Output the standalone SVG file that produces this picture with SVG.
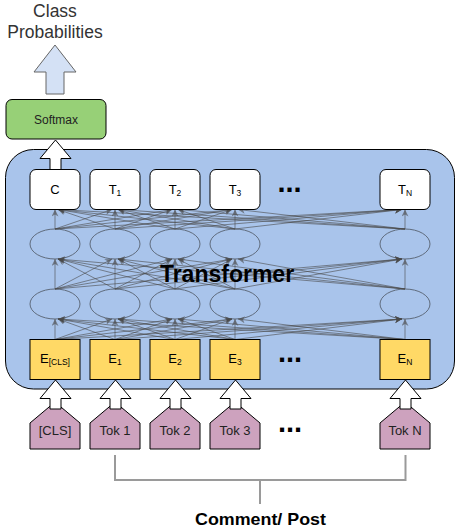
<svg xmlns="http://www.w3.org/2000/svg" width="456" height="530" viewBox="0 0 456 530">
<style>
text{font-family:"Liberation Sans",Arial,Helvetica,sans-serif;}
.lbl{font-size:13px;fill:#000;text-anchor:middle;}
.sub{font-size:8.5px;}
.dots{font-size:29px;font-weight:bold;fill:#000;text-anchor:middle;}
.tbox{fill:#fff;stroke:#000;stroke-width:1;}
.ebox{fill:#FFD966;stroke:#000;stroke-width:1;}
.tok{fill:#CDA2BE;stroke:#000;stroke-width:1;}
.ell{fill:none;stroke:#5f6b7c;stroke-width:1;}
.blk{fill:#fff;stroke:#000;stroke-width:1;}
.c{stroke:#4a4a4a;stroke-opacity:0.6;stroke-width:1;fill:none;marker-end:url(#ah);}
.br{stroke:#9a9a9a;stroke-width:2;fill:none;}
</style>
<defs>
<marker id="ah" markerUnits="userSpaceOnUse" markerWidth="8" markerHeight="8" refX="7" refY="3.5" orient="auto">
<path d="M0,0 L7,3.5 L0,7 L2,3.5 z" fill="#4a4a4a" fill-opacity="0.6"/>
</marker>
</defs>

<g id="title">
<text x="55" y="17" style="font-size:17.5px;fill:#333;text-anchor:middle">Class</text>
<text x="55" y="38" style="font-size:17.5px;fill:#333;text-anchor:middle">Probabilities</text>
</g>
<g id="out-arrow">
<polygon points="55,45 76,72 64,72 64,94 46,94 46,72 34,72" fill="#D4E1F5" stroke="#666" stroke-width="1"/>
</g>
<g id="softmax">
<rect x="6" y="99.5" width="100" height="39.5" rx="6" fill="#97D077" stroke="#000"/>
<text x="56" y="123.5" style="font-size:12px;fill:#222;text-anchor:middle">Softmax</text>
</g>

<g id="transformer">
<rect x="5.5" y="149.5" width="449" height="239.5" rx="28" fill="#A9C4EB" stroke="#000" stroke-width="1"/>
</g>

<g id="c-arrow">
<polygon class="blk" points="55.5,140 71,158.5 61,158.5 61,169.5 50,169.5 50,158.5 40,158.5"/>
</g>

<g id="hidden-layers">
<ellipse class="ell" cx="55" cy="244" rx="25" ry="15"/>
<ellipse class="ell" cx="115" cy="244" rx="25" ry="15"/>
<ellipse class="ell" cx="175" cy="244" rx="25" ry="15"/>
<ellipse class="ell" cx="235" cy="244" rx="25" ry="15"/>
<ellipse class="ell" cx="405" cy="244" rx="25" ry="15"/>
<ellipse class="ell" cx="55" cy="304" rx="25" ry="15"/>
<ellipse class="ell" cx="115" cy="304" rx="25" ry="15"/>
<ellipse class="ell" cx="175" cy="304" rx="25" ry="15"/>
<ellipse class="ell" cx="235" cy="304" rx="25" ry="15"/>
<ellipse class="ell" cx="405" cy="304" rx="25" ry="15"/>
</g>

<g id="connectors">
<!-- layer 1: E -> lower ellipses -->
<line class="c" x1="55" y1="339.5" x2="55" y2="319"/>
<line class="c" x1="55" y1="339.5" x2="112" y2="319"/>
<line class="c" x1="55" y1="339.5" x2="172" y2="319"/>
<line class="c" x1="55" y1="339.5" x2="232" y2="319"/>
<line class="c" x1="55" y1="339.5" x2="402" y2="319"/>
<line class="c" x1="115" y1="339.5" x2="58" y2="319"/>
<line class="c" x1="115" y1="339.5" x2="115" y2="319"/>
<line class="c" x1="115" y1="339.5" x2="172" y2="319"/>
<line class="c" x1="115" y1="339.5" x2="232" y2="319"/>
<line class="c" x1="115" y1="339.5" x2="402" y2="319"/>
<line class="c" x1="175" y1="339.5" x2="58" y2="319"/>
<line class="c" x1="175" y1="339.5" x2="118" y2="319"/>
<line class="c" x1="175" y1="339.5" x2="175" y2="319"/>
<line class="c" x1="175" y1="339.5" x2="232" y2="319"/>
<line class="c" x1="175" y1="339.5" x2="402" y2="319"/>
<line class="c" x1="235" y1="339.5" x2="58" y2="319"/>
<line class="c" x1="235" y1="339.5" x2="118" y2="319"/>
<line class="c" x1="235" y1="339.5" x2="178" y2="319"/>
<line class="c" x1="235" y1="339.5" x2="235" y2="319"/>
<line class="c" x1="235" y1="339.5" x2="402" y2="319"/>
<line class="c" x1="405" y1="339.5" x2="58" y2="319"/>
<line class="c" x1="405" y1="339.5" x2="118" y2="319"/>
<line class="c" x1="405" y1="339.5" x2="178" y2="319"/>
<line class="c" x1="405" y1="339.5" x2="238" y2="319"/>
<line class="c" x1="405" y1="339.5" x2="405" y2="319"/>
<!-- layer 2: lower ellipses -> upper ellipses -->
<line class="c" x1="55" y1="289" x2="55" y2="259"/>
<line class="c" x1="55" y1="289" x2="112" y2="259"/>
<line class="c" x1="55" y1="289" x2="172" y2="259"/>
<line class="c" x1="55" y1="289" x2="232" y2="259"/>
<line class="c" x1="55" y1="289" x2="402" y2="259"/>
<line class="c" x1="115" y1="289" x2="58" y2="259"/>
<line class="c" x1="115" y1="289" x2="115" y2="259"/>
<line class="c" x1="115" y1="289" x2="172" y2="259"/>
<line class="c" x1="115" y1="289" x2="232" y2="259"/>
<line class="c" x1="115" y1="289" x2="402" y2="259"/>
<line class="c" x1="175" y1="289" x2="58" y2="259"/>
<line class="c" x1="175" y1="289" x2="118" y2="259"/>
<line class="c" x1="175" y1="289" x2="175" y2="259"/>
<line class="c" x1="175" y1="289" x2="232" y2="259"/>
<line class="c" x1="175" y1="289" x2="402" y2="259"/>
<line class="c" x1="235" y1="289" x2="58" y2="259"/>
<line class="c" x1="235" y1="289" x2="118" y2="259"/>
<line class="c" x1="235" y1="289" x2="178" y2="259"/>
<line class="c" x1="235" y1="289" x2="235" y2="259"/>
<line class="c" x1="235" y1="289" x2="402" y2="259"/>
<line class="c" x1="405" y1="289" x2="58" y2="259"/>
<line class="c" x1="405" y1="289" x2="118" y2="259"/>
<line class="c" x1="405" y1="289" x2="178" y2="259"/>
<line class="c" x1="405" y1="289" x2="238" y2="259"/>
<line class="c" x1="405" y1="289" x2="405" y2="259"/>
<!-- layer 3: upper ellipses -> T -->
<line class="c" x1="55" y1="229" x2="55" y2="209.5"/>
<line class="c" x1="55" y1="229" x2="112" y2="209.5"/>
<line class="c" x1="55" y1="229" x2="172" y2="209.5"/>
<line class="c" x1="55" y1="229" x2="232" y2="209.5"/>
<line class="c" x1="55" y1="229" x2="402" y2="209.5"/>
<line class="c" x1="115" y1="229" x2="58" y2="209.5"/>
<line class="c" x1="115" y1="229" x2="115" y2="209.5"/>
<line class="c" x1="115" y1="229" x2="172" y2="209.5"/>
<line class="c" x1="115" y1="229" x2="232" y2="209.5"/>
<line class="c" x1="115" y1="229" x2="402" y2="209.5"/>
<line class="c" x1="175" y1="229" x2="58" y2="209.5"/>
<line class="c" x1="175" y1="229" x2="118" y2="209.5"/>
<line class="c" x1="175" y1="229" x2="175" y2="209.5"/>
<line class="c" x1="175" y1="229" x2="232" y2="209.5"/>
<line class="c" x1="175" y1="229" x2="402" y2="209.5"/>
<line class="c" x1="235" y1="229" x2="58" y2="209.5"/>
<line class="c" x1="235" y1="229" x2="118" y2="209.5"/>
<line class="c" x1="235" y1="229" x2="178" y2="209.5"/>
<line class="c" x1="235" y1="229" x2="235" y2="209.5"/>
<line class="c" x1="235" y1="229" x2="402" y2="209.5"/>
<line class="c" x1="405" y1="229" x2="58" y2="209.5"/>
<line class="c" x1="405" y1="229" x2="118" y2="209.5"/>
<line class="c" x1="405" y1="229" x2="178" y2="209.5"/>
<line class="c" x1="405" y1="229" x2="238" y2="209.5"/>
<line class="c" x1="405" y1="229" x2="405" y2="209.5"/>
</g>

<g id="transformer-label">
<text x="227" y="282" style="font-size:23px;font-weight:bold;fill:#000;text-anchor:middle">Transformer</text>
</g>

<g id="outputs">
<rect class="tbox" x="30" y="169.5" width="50" height="40" rx="6"/>
<text class="lbl" x="55" y="194">C</text>
<rect class="tbox" x="90" y="169.5" width="50" height="40" rx="6"/>
<text class="lbl" x="115" y="193.5">T<tspan class="sub" dy="2">1</tspan></text>
<rect class="tbox" x="150" y="169.5" width="50" height="40" rx="6"/>
<text class="lbl" x="175" y="193.5">T<tspan class="sub" dy="2">2</tspan></text>
<rect class="tbox" x="210" y="169.5" width="50" height="40" rx="6"/>
<text class="lbl" x="235" y="193.5">T<tspan class="sub" dy="2">3</tspan></text>
<text class="dots" x="289.5" y="192">...</text>
<rect class="tbox" x="380" y="169.5" width="50" height="40" rx="6"/>
<text class="lbl" x="405" y="193.5">T<tspan class="sub" dy="2">N</tspan></text>
</g>

<g id="embeddings">
<rect class="ebox" x="30" y="339.5" width="50" height="40"/>
<text class="lbl" x="55" y="362.5">E<tspan class="sub" dy="2">[CLS]</tspan></text>
<rect class="ebox" x="90" y="339.5" width="50" height="40"/>
<text class="lbl" x="115" y="362.5">E<tspan class="sub" dy="2">1</tspan></text>
<rect class="ebox" x="150" y="339.5" width="50" height="40"/>
<text class="lbl" x="175" y="362.5">E<tspan class="sub" dy="2">2</tspan></text>
<rect class="ebox" x="210" y="339.5" width="50" height="40"/>
<text class="lbl" x="235" y="362.5">E<tspan class="sub" dy="2">3</tspan></text>
<text class="dots" x="290" y="362">...</text>
<rect class="ebox" x="380" y="339.5" width="50" height="40"/>
<text class="lbl" x="405" y="362.5">E<tspan class="sub" dy="2">N</tspan></text>
</g>

<g id="tokens">
<polygon class="tok" points="30,449 30,423 55,402 80,423 80,449"/>
<text class="lbl" x="55" y="435" style="fill:#222">[CLS]</text>
<polygon class="tok" points="90,449 90,423 115,402 140,423 140,449"/>
<text class="lbl" x="115" y="435" style="fill:#222">Tok 1</text>
<polygon class="tok" points="150,449 150,423 175,402 200,423 200,449"/>
<text class="lbl" x="175" y="435" style="fill:#222">Tok 2</text>
<polygon class="tok" points="210,449 210,423 235,402 260,423 260,449"/>
<text class="lbl" x="235" y="435" style="fill:#222">Tok 3</text>
<text class="dots" x="290" y="432">...</text>
<polygon class="tok" points="380,449 380,423 405,402 430,423 430,449"/>
<text class="lbl" x="405" y="435" style="fill:#222">Tok N</text>
</g>

<g id="input-arrows">
<polygon class="blk" points="55.5,380 71,398.5 61,398.5 61,409 50,409 50,398.5 40,398.5"/>
<polygon class="blk" points="115.5,380 131,398.5 121,398.5 121,409 110,409 110,398.5 100,398.5"/>
<polygon class="blk" points="175.5,380 191,398.5 181,398.5 181,409 170,409 170,398.5 160,398.5"/>
<polygon class="blk" points="235.5,380 251,398.5 241,398.5 241,409 230,409 230,398.5 220,398.5"/>
<polygon class="blk" points="405.5,380 421,398.5 411,398.5 411,409 400,409 400,398.5 390,398.5"/>
</g>

<g id="bracket">
<path class="br" d="M115,455 V480 H405.5 V455 M260,480 V504"/>
<text x="260.5" y="525" textLength="131" lengthAdjust="spacingAndGlyphs" style="font-size:16.5px;font-weight:bold;fill:#000;text-anchor:middle">Comment/ Post</text>
</g>
</svg>
